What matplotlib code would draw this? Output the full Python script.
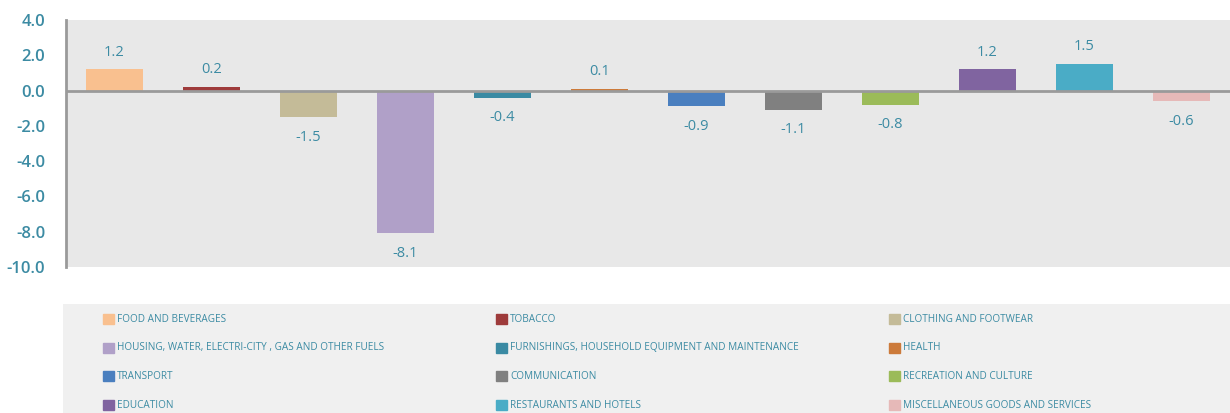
import numpy as np
import matplotlib
matplotlib.use("Agg")
import matplotlib.pyplot as plt
from matplotlib.patches import Rectangle

plt.rcParams['font.family'] = ['Open Sans', 'DejaVu Sans']

categories = ["FOOD AND BEVERAGES", "TOBACCO", "CLOTHING AND FOOTWEAR",
              "HOUSING, WATER, ELECTRI-CITY , GAS AND OTHER FUELS",
              "FURNISHINGS, HOUSEHOLD EQUIPMENT AND MAINTENANCE", "HEALTH",
              "TRANSPORT", "COMMUNICATION", "RECREATION AND CULTURE",
              "EDUCATION", "RESTAURANTS AND HOTELS",
              "MISCELLANEOUS GOODS AND SERVICES"]
values = [1.2, 0.2, -1.5, -8.1, -0.4, 0.1, -0.9, -1.1, -0.8, 1.2, 1.5, -0.6]
colors = ["#f9c08f", "#9e3b3b", "#c4bb98", "#b0a0c8", "#3a8aa3", "#cc7a3a",
          "#4a7fbf", "#808080", "#9bbb59", "#8064a0", "#4aacc6", "#e6b9b8"]
yticks = [4, 2, 0, -2, -4, -6, -8, -10]

txt = "#3c8ba3"

fig = plt.figure(figsize=(12.3, 4.13), dpi=100)
ax = fig.add_axes([66/1230, 1-267/413, 1-66/1230, 247/413])
ax.set_facecolor("#e8e8e8")

x = np.arange(len(values))
ax.bar(x, values, width=0.59, color=colors, zorder=2)
ax.axhline(0, color="#9a9a9a", lw=2, zorder=3)
ax.set_xlim(-0.5, len(values) - 0.5)
ax.set_ylim(-10, 4)
ax.set_yticks(yticks)
ax.set_yticklabels(["%.1f" % t for t in yticks], color=txt, fontsize=12,
                   fontweight="semibold")
ax.set_xticks([])
ax.tick_params(axis="y", length=0, pad=15)
for s in ["top", "right", "bottom"]:
    ax.spines[s].set_visible(False)
ax.spines["left"].set_color("#9a9a9a")
ax.spines["left"].set_linewidth(2)

for xi, v in zip(x, values):
    if v >= 0:
        ax.annotate("%.1f" % v, (xi, v), xytext=(0, 7), textcoords="offset points",
                    ha="center", va="bottom", color=txt, fontsize=10.5)
    else:
        ax.annotate("%.1f" % v, (xi, v), xytext=(0, -9), textcoords="offset points",
                    ha="center", va="top", color=txt, fontsize=10.5)

# legend box
lax = fig.add_axes([63/1230, 0, 1-63/1230, 109/413])
lax.set_facecolor("#f0f0f0")
lax.set_xlim(63, 1230)
lax.set_ylim(413, 304)
lax.set_xticks([])
lax.set_yticks([])
for s in lax.spines.values():
    s.set_visible(False)
for i, (lab, c) in enumerate(zip(categories, colors)):
    row, col = i // 3, i % 3
    x0 = 103 + col * 393
    y0 = 319 + row * 28.7
    lax.add_patch(Rectangle((x0, y0 - 5), 11, 10, color=c))
    lax.text(x0 + 14, y0, lab, color=txt, fontsize=7.2, va="center", ha="left")

fig.savefig("out.png", dpi=100)
